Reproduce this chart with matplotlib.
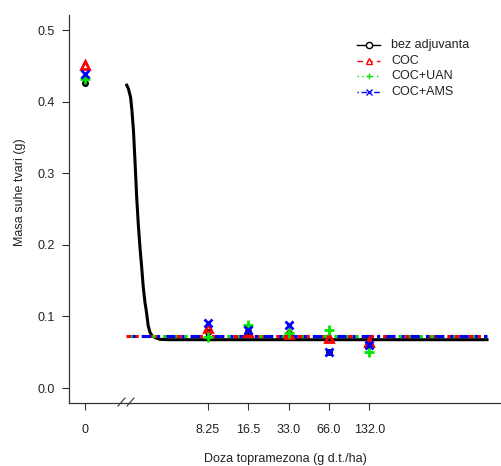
import matplotlib
matplotlib.use('Agg')
import matplotlib.pyplot as plt
from matplotlib.lines import Line2D

plt.rcParams['font.family'] = ['Liberation Sans', 'DejaVu Sans']

# dose 0 is drawn at 1.0 on the log axis
doses = [1.0, 8.25, 16.5, 33.0, 66.0, 132.0]
tick_labels = ['0', '8.25', '16.5', '33.0', '66.0', '132.0']

bez = [0.426, 0.078, 0.080, 0.077, 0.050, 0.060]
coc = [0.451, 0.084, 0.078, 0.075, 0.070, 0.064]
coc_uan = [0.431, 0.071, 0.088, 0.077, 0.081, 0.050]
coc_ams = [0.438, 0.091, 0.081, 0.088, 0.050, 0.060]

# fitted curves
bez_fit_x = [2.04, 2.10, 2.18, 2.23, 2.29, 2.35, 2.42, 2.49, 2.56, 2.64, 2.71,
             2.79, 2.87, 2.95, 3.04, 3.15, 3.32, 3.61, 4.2, 1000]
bez_fit_y = [0.423, 0.418, 0.406, 0.388, 0.360, 0.318, 0.267, 0.228, 0.197, 0.168, 0.141,
             0.120, 0.105, 0.087, 0.078, 0.073, 0.0705, 0.068, 0.0675, 0.0675]
flat_x = [2.0, 1000]
coc_fit = [0.073, 0.073]
uan_fit = [0.073, 0.073]
ams_fit = [0.073, 0.073]

labels = ['bez adjuvanta', 'COC', 'COC+UAN', 'COC+AMS']
colors = ['black', '#ff0000', '#00e600', '#0000ff']
styles = ['-', (0, (4, 3)), (0, (1, 2.5)), (0, (1, 2, 4, 2))]
markers = ['o', '^', '+', 'x']

W, H = 501, 466
fig = plt.figure(figsize=(W / 100, H / 100), dpi=100)
ax = fig.add_axes([69 / W, (H - 402.7) / H, (W - 69) / W, (402.7 - 15) / H])

ax.set_xscale('log')
ax.set_xlim(0.756, 1272)
ax.set_ylim(-0.0205, 0.521)

# curves
ax.plot(bez_fit_x, bez_fit_y, color='black', lw=2.2, zorder=2, solid_joinstyle='round')
ax.plot(flat_x, coc_fit, color=colors[1], lw=2.2, ls=(0, (4, 3)), zorder=3)
ax.plot(flat_x, uan_fit, color=colors[2], lw=2.2, ls=(2, (1, 2.5)), zorder=3)
ax.plot(flat_x, ams_fit, color=colors[3], lw=2.2, ls=(3, (3, 2, 1, 2)), zorder=3)

# points
ax.plot(doses, bez, 'o', ms=4, mfc='black', mec='black', zorder=4)
ax.plot(doses, coc, '^', ms=5.5, mfc='none', mec=colors[1], mew=2, zorder=4)
ax.plot(doses, coc_uan, '+', ms=7, mec=colors[2], mew=2, zorder=4)
ax.plot(doses, coc_ams, 'x', ms=5.5, mec=colors[3], mew=2, zorder=4)

for s in ['top', 'right']:
    ax.spines[s].set_visible(False)
for s in ['left', 'bottom']:
    ax.spines[s].set_color('#333333')
    ax.spines[s].set_linewidth(0.9)

ax.set_xticks(doses)
ax.set_xticklabels(tick_labels)
ax.xaxis.set_minor_locator(matplotlib.ticker.NullLocator())
ax.set_yticks([0.0, 0.1, 0.2, 0.3, 0.4, 0.5])
ax.set_yticklabels(['0.0', '0.1', '0.2', '0.3', '0.4', '0.5'])
ax.tick_params(axis='x', length=5, width=0.8, color='#333333', pad=10, labelsize=9, labelcolor='#222222')
ax.tick_params(axis='y', length=5, width=0.8, color='#333333', pad=5.5, labelsize=9, labelcolor='#222222')

fig.text(285 / W, 1 - 459 / H, 'Doza topramezona (g d.t./ha)', ha='center', va='center',
         fontsize=9, color='#222222')
fig.text(20 / W, 1 - 192 / H, 'Masa suhe tvari (g)', ha='center', va='center',
         rotation=90, fontsize=9, color='#222222')

# axis break marks
for x0 in [118, 127]:
    fig.add_artist(Line2D([x0 / W, (x0 + 7) / W], [1 - 406 / H, 1 - 398 / H],
                          color='#333333', lw=0.8))

# legend
for i, lab in enumerate(labels):
    yy = 1 - (45 + 15.7 * i) / H
    fig.add_artist(Line2D([357 / W, 380 / W], [yy, yy], color=colors[i], lw=1,
                          ls=styles[i]))
    mfc = 'white' if markers[i] in ('o', '^') else 'none'
    fig.add_artist(Line2D([368.5 / W], [yy], marker=markers[i], ms=4.5, mfc=mfc,
                          mec=colors[i], mew=1, ls='none'))
    fig.text(391 / W, yy, lab, ha='left', va='center', fontsize=9, color='#222222')

fig.savefig('out.png', dpi=100)
